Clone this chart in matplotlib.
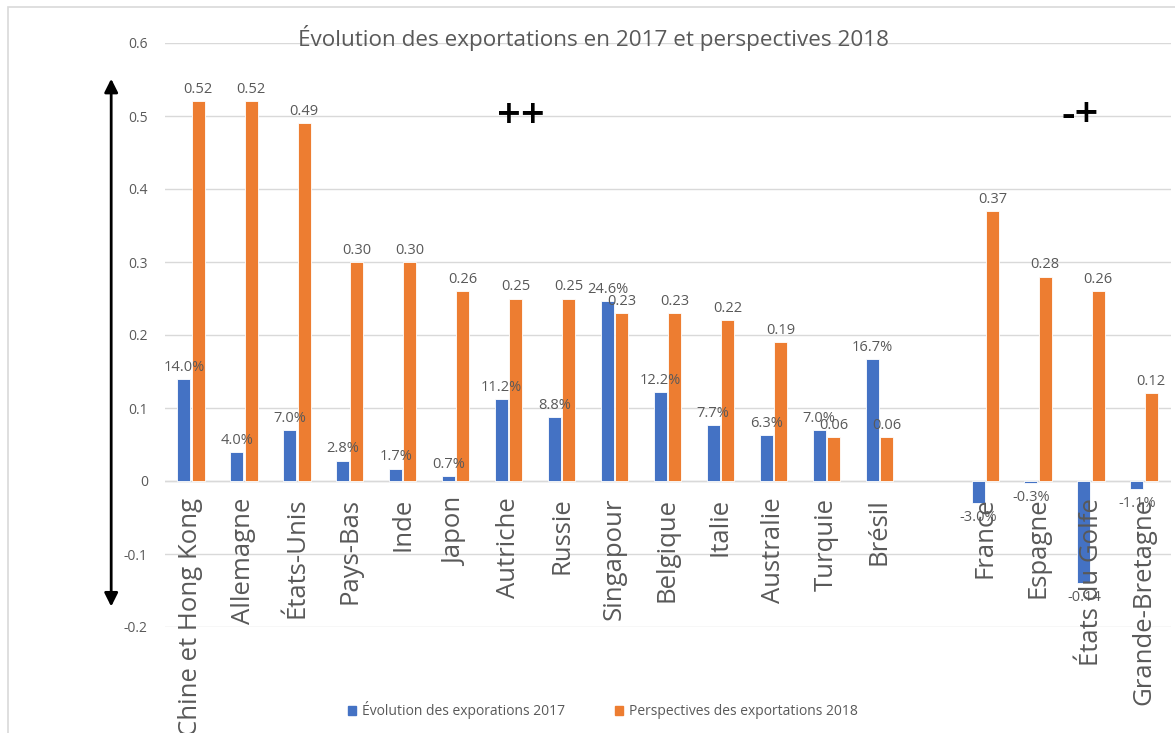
import numpy as np
import matplotlib.pyplot as plt
from matplotlib.patches import Patch, Rectangle
from matplotlib import transforms

plt.rcParams['font.family'] = ['Open Sans', 'DejaVu Sans']

# Data; empty slot separates the two groups
pays = ['Chine et Hong Kong', 'Allemagne', 'États-Unis', 'Pays-Bas', 'Inde', 'Japon',
        'Autriche', 'Russie', 'Singapour', 'Belgique', 'Italie', 'Australie',
        'Turquie', 'Brésil', '', 'France', 'Espagne', 'États du Golfe', 'Grande-Bretagne']
evolution_2017 = [0.140, 0.040, 0.070, 0.028, 0.017, 0.007, 0.112, 0.088, 0.246, 0.122,
                  0.077, 0.063, 0.070, 0.167, np.nan, -0.030, -0.003, -0.140, -0.011]
perspectives_2018 = [0.52, 0.52, 0.49, 0.30, 0.30, 0.26, 0.25, 0.25, 0.23, 0.23,
                     0.22, 0.19, 0.06, 0.06, np.nan, 0.37, 0.28, 0.26, 0.12]
y_ticks = [-0.2, -0.1, 0, 0.1, 0.2, 0.3, 0.4, 0.5, 0.6]

BLUE = '#4472C4'
ORANGE = '#ED7D31'
GREY = '#595959'
GRID = '#D9D9D9'

W, H = 1175, 733
fig = plt.figure(figsize=(W / 100, H / 100), dpi=100, facecolor='white')
ax = fig.add_axes([164.5 / W, 1 - 627 / H, (1170.5 - 164.5) / W, (627 - 43) / H])

# chart border
fig.patches.append(Rectangle((8 / W, -0.05), 1.2, 1 - 7 / H + 0.05, transform=fig.transFigure,
                             fill=False, edgecolor=GRID, linewidth=1.2, zorder=0))

x = np.arange(len(pays))
bw = 0.245
off = 0.135
b1 = ax.bar(x - off, evolution_2017, bw, color=BLUE, edgecolor='white', linewidth=0.6, zorder=3)
b2 = ax.bar(x + off, perspectives_2018, bw, color=ORANGE, edgecolor='white', linewidth=0.6, zorder=3)


def fmt_2017(name, v):
    # the Gulf value is shown as a plain number in the source chart
    return f'{v:.2f}' if name == 'États du Golfe' else f'{v * 100:.1f}%'


# data labels
for bars, vals, fmt in [(b1, evolution_2017, fmt_2017),
                        (b2, perspectives_2018, lambda n, v: f'{v:.2f}')]:
    for rect, v, name in zip(bars, vals, pays):
        if np.isnan(v):
            continue
        cx = rect.get_x() + rect.get_width() / 2
        if v >= 0:
            ax.annotate(fmt(name, v), (cx, v), xytext=(0, 3), textcoords='offset points',
                        ha='center', va='bottom', fontsize=10.5, color=GREY, zorder=5)
        else:
            ax.annotate(fmt(name, v), (cx, v), xytext=(0, -5), textcoords='offset points',
                        ha='center', va='top', fontsize=10.5, color=GREY, zorder=5)

# category labels anchored at the zero line
lab_tr = transforms.offset_copy(ax.transData, fig=fig, x=0, y=-12, units='points')
for xi, name in zip(x, pays):
    ax.text(xi, 0, name, rotation=90, ha='center', va='top', fontsize=18.5,
            color=GREY, transform=lab_tr, clip_on=False, zorder=4)

ax.set_xlim(-0.5, len(pays) - 0.5)
ax.set_ylim(-0.2, 0.6)
ax.set_yticks(y_ticks)
ax.set_yticklabels([f'{t:g}' for t in y_ticks])
ax.set_xticks([])
ax.tick_params(axis='y', length=0, pad=12, labelsize=10, labelcolor=GREY)
ax.grid(axis='y', color=GRID, linewidth=1, zorder=0)
for s in ax.spines.values():
    s.set_visible(False)
ax.axhline(0, color=GRID, linewidth=1, zorder=1)

# double arrow on the left
ax.annotate('', xy=(-0.053, 0.551), xytext=(-0.053, -0.172),
            xycoords=ax.get_yaxis_transform(), textcoords=ax.get_yaxis_transform(),
            arrowprops=dict(arrowstyle='<|-|>', color='black', lw=2,
                            mutation_scale=20, shrinkA=0, shrinkB=0),
            annotation_clip=False)

# group markers
ax.text(6.23, 0.498, '++', ha='center', va='center', fontsize=30, fontweight='semibold', zorder=5)
ax.text(16.79, 0.500, '-+', ha='center', va='center', fontsize=30, fontweight='semibold', zorder=5)

fig.text(593 / W, 1 - 46 / H, 'Évolution des exportations en 2017 et perspectives 2018',
         ha='center', va='baseline', fontsize=16.2, color=GREY)

handles = [Patch(color=BLUE, label='Évolution des exporations 2017'),
           Patch(color=ORANGE, label='Perspectives des exportations 2018')]
fig.legend(handles=handles, loc='center', bbox_to_anchor=(603 / W, 1 - 710 / H), ncol=2,
           frameon=False, fontsize=10, labelcolor=GREY, handlelength=0.6, handleheight=0.6,
           handletextpad=0.4, columnspacing=3.6)

fig.savefig('out.png', dpi=100)
